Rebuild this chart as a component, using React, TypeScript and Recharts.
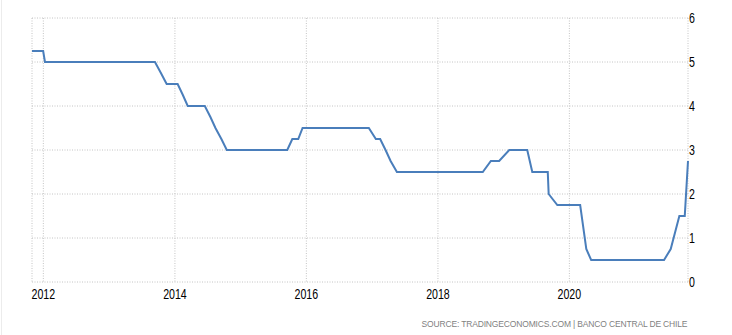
import { CartesianGrid, Line, LineChart, XAxis, YAxis } from "recharts";

if (typeof document !== "undefined") document.body.style.margin = "0";

// policy rate, points at the dates where the line bends
const dates = [
  "2011-10-30", "2011-12-31", "2012-01-10", "2013-09-12", "2013-10-15", "2013-11-16",
  "2014-01-16", "2014-02-14", "2014-03-13", "2014-06-16", "2014-07-17", "2014-08-14",
  "2014-09-16", "2014-10-16", "2015-09-17", "2015-10-15", "2015-11-17", "2015-12-11",
  "2016-12-13", "2017-01-21", "2017-02-14", "2017-03-16", "2017-04-13", "2017-05-18",
  "2018-09-07", "2018-10-22", "2018-12-07", "2019-02-01", "2019-05-12", "2019-06-09",
  "2019-09-03", "2019-09-08", "2019-10-26", "2020-03-01", "2020-04-04", "2020-05-01",
  "2021-06-10", "2021-07-17", "2021-09-03", "2021-10-03", "2021-10-21",
];
const rates = [
  5.25, 5.25, 5.0, 5.0, 4.75, 4.5,
  4.5, 4.25, 4.0, 4.0, 3.75, 3.5,
  3.25, 3.0, 3.0, 3.25, 3.25, 3.5,
  3.5, 3.25, 3.25, 3.0, 2.75, 2.5,
  2.5, 2.75, 2.75, 3.0, 3.0, 2.5,
  2.5, 2.0, 1.75, 1.75, 0.75, 0.5,
  0.5, 0.75, 1.5, 1.5, 2.75,
];
const tickYears = [2012, 2014, 2016, 2018, 2020];
const rateTicks = [0, 1, 2, 3, 4, 5, 6];
const sourceText = "SOURCE: TRADINGECONOMICS.COM | BANCO CENTRAL DE CHILE";

const data = dates.map((d, i) => ({ t: new Date(d).getTime(), rate: rates[i] }));
const xTicks = tickYears.map((y) => Date.UTC(y, 0, 1));

// narrow labels: squeeze regular glyphs to the narrow width of the reference
function NarrowTick(props: any) {
  const { x, y, payload, textAnchor, shift, label } = props;
  const text = label(payload.value);
  return (
    <text
      x={x}
      y={y}
      dy={shift}
      textAnchor={textAnchor}
      fill="#000"
      fontSize={14}
      fontFamily="'Liberation Sans', Arial, sans-serif"
      textLength={text.length * 5.9}
      lengthAdjust="spacingAndGlyphs"
    >
      {text}
    </text>
  );
}

export default function App() {
  return (
    <div style={{ position: "relative", width: 732, height: 335, background: "#fff" }}>
      <div style={{ position: "absolute", left: 1, top: 0, width: 1, height: 335, background: "#ececec" }} />
      <LineChart width={732} height={335} data={data} margin={{ top: 18, right: 0, left: 32, bottom: 0 }}>
        <CartesianGrid stroke="#c4c4c4" strokeDasharray="1 1.5" />
        <XAxis
          dataKey="t"
          type="number"
          scale="linear"
          domain={[data[0].t, data[data.length - 1].t]}
          ticks={xTicks}
          interval={0}
          axisLine={false}
          tickLine={false}
          tickSize={6}
          tickMargin={1}
          height={53}
          tick={<NarrowTick shift="0.71em" label={(v: number) => String(new Date(v).getUTCFullYear())} />}
        />
        <YAxis
          orientation="right"
          domain={[0, 6]}
          ticks={rateTicks}
          interval={0}
          axisLine={false}
          tickLine={false}
          tickSize={0}
          tickMargin={1}
          width={44}
          tick={<NarrowTick shift="0.36em" label={(v: number) => String(v)} />}
        />
        <Line
          type="linear"
          dataKey="rate"
          stroke="#4a7ebb"
          strokeWidth={2}
          dot={false}
          activeDot={false}
          isAnimationActive={false}
        />
      </LineChart>
      <svg width={732} height={335} style={{ position: "absolute", left: 0, top: 0, pointerEvents: "none" }}>
        <text
          x={421.5}
          y={326.5}
          textLength={266}
          lengthAdjust="spacing"
          fill="#7f7f7f"
          fontSize={8.5}
          fontFamily="'Liberation Sans', Arial, sans-serif"
        >
          {sourceText}
        </text>
      </svg>
    </div>
  );
}
